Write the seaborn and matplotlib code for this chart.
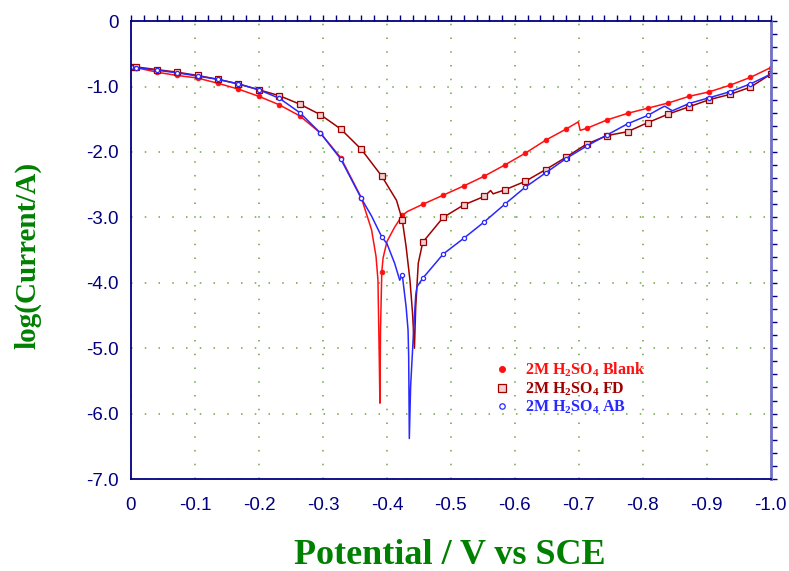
import numpy as np
import pandas as pd
import seaborn as sns
import matplotlib.pyplot as plt
from matplotlib.lines import Line2D
from matplotlib.ticker import MultipleLocator, FuncFormatter

# potentials where the instrument draws a symbol
marks = [0.0, -0.008, -0.040, -0.072, -0.104, -0.136, -0.168, -0.200, -0.232, -0.264,
         -0.296, -0.328, -0.360, -0.392, -0.424, -0.456, -0.488, -0.520, -0.552, -0.584,
         -0.616, -0.648, -0.680, -0.712, -0.744, -0.776, -0.808, -0.840, -0.872, -0.904,
         -0.936, -0.968, -1.000]

# 2M H2SO4 Blank
e_blank = [0.0, -0.008, -0.040, -0.072, -0.104, -0.136, -0.168, -0.200, -0.232, -0.264,
           -0.296, -0.328, -0.360, -0.376, -0.383, -0.386, -0.388, -0.389, -0.390, -0.392,
           -0.394, -0.400, -0.412, -0.424, -0.432, -0.456, -0.488, -0.520, -0.552, -0.584,
           -0.616, -0.648, -0.680, -0.699, -0.702, -0.712, -0.744, -0.776, -0.808, -0.840,
           -0.872, -0.904, -0.936, -0.968, -1.000]
i_blank = [-0.70, -0.71, -0.78, -0.83, -0.87, -0.95, -1.04, -1.15, -1.28, -1.45,
           -1.71, -2.09, -2.70, -3.19, -3.60, -3.96, -5.13, -5.84, -4.70, -3.83,
           -3.62, -3.37, -3.15, -2.97, -2.91, -2.80, -2.66, -2.52, -2.37, -2.20,
           -2.02, -1.82, -1.65, -1.54, -1.67, -1.64, -1.51, -1.41, -1.33, -1.25,
           -1.15, -1.08, -0.98, -0.86, -0.71]

# 2M H2SO4 FD
e_fd = [0.0, -0.008, -0.040, -0.072, -0.104, -0.136, -0.168, -0.200, -0.232, -0.264,
        -0.296, -0.328, -0.360, -0.392, -0.415, -0.424, -0.430, -0.436, -0.440, -0.443,
        -0.445, -0.449, -0.456, -0.488, -0.520, -0.552, -0.562, -0.566, -0.584, -0.616,
        -0.648, -0.680, -0.712, -0.744, -0.776, -0.808, -0.840, -0.872, -0.904, -0.936,
        -0.968, -1.000]
i_fd = [-0.70, -0.70, -0.74, -0.78, -0.83, -0.89, -0.96, -1.05, -1.14, -1.27,
        -1.43, -1.65, -1.96, -2.37, -2.74, -3.04, -3.45, -3.96, -4.46, -5.00,
        -4.37, -3.70, -3.38, -3.00, -2.81, -2.68, -2.59, -2.64, -2.58, -2.45,
        -2.27, -2.08, -1.88, -1.75, -1.69, -1.55, -1.42, -1.31, -1.20, -1.12,
        -1.01, -0.81]

# 2M H2SO4 AB
e_ab = [0.0, -0.008, -0.040, -0.072, -0.104, -0.136, -0.168, -0.200, -0.232, -0.264,
        -0.296, -0.328, -0.360, -0.376, -0.392, -0.400, -0.412, -0.420, -0.424, -0.430,
        -0.433, -0.434, -0.435, -0.437, -0.442, -0.445, -0.447, -0.456, -0.488, -0.520,
        -0.552, -0.584, -0.616, -0.648, -0.680, -0.712, -0.744, -0.776, -0.808, -0.828,
        -0.834, -0.846, -0.872, -0.904, -0.936, -0.968, -1.000]
i_ab = [-0.70, -0.71, -0.75, -0.79, -0.84, -0.89, -0.96, -1.05, -1.18, -1.40,
        -1.71, -2.11, -2.71, -2.98, -3.30, -3.40, -3.70, -3.96, -3.88, -4.37,
        -4.72, -5.13, -6.38, -5.59, -4.67, -4.19, -4.06, -3.93, -3.56, -3.32,
        -3.07, -2.80, -2.54, -2.32, -2.10, -1.91, -1.74, -1.57, -1.44, -1.33,
        -1.30, -1.37, -1.26, -1.17, -1.08, -0.96, -0.81]

labels = ['2M H$_2$SO$_4$ Blank', '2M H$_2$SO$_4$ FD', '2M H$_2$SO$_4$ AB']
colors = ['#ff1010', '#a00000', '#2828ff']

navy = '#000080'
sns.set_style('white')
plt.rcParams['font.family'] = ['Liberation Sans', 'DejaVu Sans']
plt.rcParams['mathtext.default'] = 'regular'

fig, ax = plt.subplots(figsize=(7.89, 5.71), dpi=100)
fig.subplots_adjust(left=0.166, right=0.977, bottom=0.161, top=0.963)

styles = [dict(marker='o', ms=3.4, mfc=colors[0], mec=colors[0], mew=0.6),
          dict(marker='s', ms=4.3, mfc='#f0d0d0', mec=colors[1], mew=0.9),
          dict(marker='o', ms=3.0, mfc='white', mec=colors[2], mew=0.9)]

series = [(e_blank, i_blank), (e_fd, i_fd), (e_ab, i_ab)]
for (e, i), col, st in zip(series, colors, styles):
    df = pd.DataFrame({'E': e, 'logI': i})
    mask = np.isin(np.round(df['E'].values, 3), marks)
    sns.lineplot(data=df, x='E', y='logI', sort=False, estimator=None, ax=ax,
                 color=col, lw=1.1, markevery=list(mask), **st)

ax.set_xlim(0, -1.0)
ax.set_ylim(-7.0, 0)
ax.xaxis.set_major_locator(MultipleLocator(0.1))
ax.xaxis.set_minor_locator(MultipleLocator(0.02))
ax.yaxis.set_major_locator(MultipleLocator(1.0))
ax.yaxis.set_minor_locator(MultipleLocator(0.2))
fmt = FuncFormatter(lambda v, p: '0' if abs(v) < 1e-9 else f'{v:.1f}')
ax.xaxis.set_major_formatter(fmt)
ax.yaxis.set_major_formatter(fmt)

ax.grid(True, which='major', color='#6ea640', lw=1.1, linestyle=(0, (1, 8)))

ax.tick_params(which='both', direction='out', color=navy, labelcolor=navy,
               labelsize=13.5, top=True, right=True, width=1.0, length=4)
ax.tick_params(axis='x', which='major', pad=9)
ax.tick_params(axis='y', which='major', pad=5)
for s in ['left', 'bottom', 'top']:
    ax.spines[s].set_color(navy)
    ax.spines[s].set_linewidth(1.3)
ax.spines['right'].set_color('#6f6fc8')
ax.spines['right'].set_linewidth(2.0)

ax.set_xlabel('Potential / V vs SCE', family='Liberation Serif', weight='bold',
              size=26, color='#008000')
ax.set_ylabel('log(Current/A)', family='Liberation Serif', weight='bold',
              size=21, color='#008000')
ax.xaxis.set_label_coords(0.498, -0.166)
ax.xaxis.label.set_va('center')
ax.yaxis.set_label_coords(-0.161, 0.489)
ax.yaxis.label.set_va('center')

handles = [Line2D([], [], lw=0, **st) for st in styles]
leg = ax.legend(handles, labels, loc='upper left', bbox_to_anchor=(0.548, 0.29),
                frameon=False, handlelength=0.8, handletextpad=1.0, labelspacing=0.08,
                markerscale=1.3,
                prop={'family': 'Liberation Serif', 'weight': 'bold', 'size': 11.5},
                labelcolor=colors)

plt.savefig('out.png', dpi=100)
